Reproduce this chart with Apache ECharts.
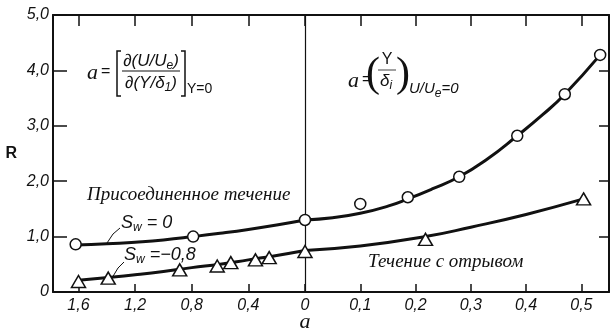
<!DOCTYPE html>
<html><head><meta charset="utf-8">
<script src="https://cdn.jsdelivr.net/npm/echarts@6/dist/echarts.min.js"></script>
<style>html,body{margin:0;padding:0;background:#fff}#c{width:612px;height:330px}</style>
</head><body><div id="c"></div>
<script>
// ---- data ----
// left half: a runs 1.6 -> 0 (Y/δ derivative), right half: a runs 0 -> 0.5
const circLeftA  = [1.62, 0.79, 0.0];
const circLeftR  = [0.86, 1.00, 1.30];
const circRightA = [0.10, 0.186, 0.279, 0.384, 0.47, 0.534];
const circRightR = [1.59, 1.71, 2.08, 2.82, 3.57, 4.28];
const triLeftA   = [1.60, 1.39, 0.885, 0.62, 0.524, 0.35, 0.253, 0.0];
const triLeftR   = [0.19, 0.25, 0.40, 0.47, 0.53, 0.58, 0.62, 0.73];
const triRightA  = [0.218, 0.504];
const triRightR  = [0.95, 1.68];
// faired curves
const curve0LeftA  = [1.62, 1.4, 1.2, 1.0, 0.79, 0.6, 0.4, 0.2, 0.0];
const curve0LeftR  = [0.85, 0.87, 0.90, 0.94, 1.00, 1.06, 1.13, 1.21, 1.30];
const curve0RightA = [0.0, 0.05, 0.1, 0.15, 0.186, 0.23, 0.279, 0.33, 0.384, 0.43, 0.47, 0.534];
const curve0RightR = [1.30, 1.34, 1.42, 1.55, 1.68, 1.86, 2.08, 2.40, 2.82, 3.20, 3.57, 4.28];
const curve1LeftA  = [1.6, 1.39, 1.2, 1.0, 0.8, 0.6, 0.4, 0.2, 0.0];
const curve1LeftR  = [0.21, 0.26, 0.31, 0.37, 0.44, 0.50, 0.58, 0.66, 0.75];
const curve1RightA = [0.0, 0.1, 0.218, 0.3, 0.4, 0.504];
const curve1RightR = [0.75, 0.83, 1.00, 1.17, 1.40, 1.68];
const leftTickStep = 0.4, rightTickStep = 0.1, yTickStep = 1;

const zip = (a, b) => a.map((v, i) => [v, b[i]]);
const fmt = step => v => {
  const k = v / step;
  if (Math.abs(k - Math.round(k)) > 1e-6) return '';
  return v === 0 ? '0' : v.toFixed(1).replace('.', ',');
};
const INK = '#111';
const labelFont = {fontFamily: 'Liberation Sans', fontStyle: 'italic', fontSize: 16, color: INK};

const chart = echarts.init(document.getElementById('c'), null, {renderer: 'canvas'});
const axisLine = {show: true, onZero: false, lineStyle: {color: INK, width: 2}};

function xAx(grid, pos, min, max, step, inverse, showLabel, tickLen, showMin) {
  return {
    type: 'value', gridIndex: grid, position: pos, min: min, max: max, interval: step, inverse: inverse,
    axisLine: axisLine, splitLine: {show: false},
    axisTick: {show: true, inside: true, length: tickLen, lineStyle: {color: INK, width: 1.5}},
    axisLabel: Object.assign({show: showLabel, margin: 6, formatter: fmt(step), showMinLabel: showMin}, labelFont)
  };
}

const option = {
  animation: false,
  backgroundColor: '#fff',
  grid: [
    {left: 53, top: 15, width: 252, bottom: 38},
    {left: 305, top: 15, right: 2, bottom: 38}
  ],
  xAxis: [
    xAx(0, 'bottom', 0, 1.78, leftTickStep, true, true, 8, true),
    xAx(1, 'bottom', 0, 0.55, rightTickStep, false, true, 8, false),
    xAx(0, 'top', 0, 1.78, leftTickStep, true, false, 11, true),
    xAx(1, 'top', 0, 0.55, rightTickStep, false, false, 11, false)
  ],
  yAxis: [
    {type: 'value', gridIndex: 0, position: 'left', min: 0, max: 5, interval: yTickStep,
     axisLine: axisLine, splitLine: {show: false},
     axisTick: {show: true, inside: true, length: 14, lineStyle: {color: INK, width: 1.5}},
     axisLabel: Object.assign({margin: 4, formatter: fmt(yTickStep)}, labelFont),
     name: 'R', nameLocation: 'middle', nameGap: 36, nameRotate: 0,
     nameTextStyle: {fontFamily: 'Liberation Sans', fontWeight: 'bold', fontSize: 16, color: INK}},
    {type: 'value', gridIndex: 0, position: 'right', min: 0, max: 5, interval: yTickStep,
     axisLine: {show: true, onZero: false, lineStyle: {color: INK, width: 1.2}}, splitLine: {show: false},
     axisTick: {show: false}, axisLabel: {show: false}},
    {type: 'value', gridIndex: 1, position: 'right', min: 0, max: 5, interval: yTickStep,
     axisLine: axisLine, splitLine: {show: false},
     axisTick: {show: true, inside: true, length: 10, lineStyle: {color: INK, width: 1.5}},
     axisLabel: {show: false}}
  ],
  series: [
    {type: 'line', xAxisIndex: 0, yAxisIndex: 0, smooth: 0.5, showSymbol: false, z: 2,
     lineStyle: {color: INK, width: 3}, data: zip(curve0LeftA, curve0LeftR)},
    {type: 'line', xAxisIndex: 1, yAxisIndex: 2, smooth: 0.5, showSymbol: false, z: 2,
     lineStyle: {color: INK, width: 3}, data: zip(curve0RightA, curve0RightR)},
    {type: 'line', xAxisIndex: 0, yAxisIndex: 0, smooth: 0.5, showSymbol: false, z: 2,
     lineStyle: {color: INK, width: 3}, data: zip(curve1LeftA, curve1LeftR)},
    {type: 'line', xAxisIndex: 1, yAxisIndex: 2, smooth: 0.5, showSymbol: false, z: 2,
     lineStyle: {color: INK, width: 3}, data: zip(curve1RightA, curve1RightR)},
    {type: 'scatter', xAxisIndex: 0, yAxisIndex: 0, symbol: 'circle', symbolSize: 11, z: 5,
     itemStyle: {color: '#fff', opacity: 1, borderColor: INK, borderWidth: 1.5}, data: zip(circLeftA, circLeftR)},
    {type: 'scatter', xAxisIndex: 1, yAxisIndex: 2, symbol: 'circle', symbolSize: 11, z: 5,
     itemStyle: {color: '#fff', opacity: 1, borderColor: INK, borderWidth: 1.5}, data: zip(circRightA, circRightR)},
    {type: 'scatter', xAxisIndex: 0, yAxisIndex: 0, symbol: 'triangle', symbolSize: [14, 12], z: 5,
     itemStyle: {color: '#fff', opacity: 1, borderColor: INK, borderWidth: 1.5}, data: zip(triLeftA, triLeftR)},
    {type: 'scatter', xAxisIndex: 1, yAxisIndex: 2, symbol: 'triangle', symbolSize: [14, 12], z: 5,
     itemStyle: {color: '#fff', opacity: 1, borderColor: INK, borderWidth: 1.5}, data: zip(triRightA, triRightR)}
  ]
};
chart.setOption(option);

// ---- annotations ----
const sub = {fontSize: 12, fontFamily: 'Liberation Sans', fontStyle: 'italic', padding: [9, 0, 0, 0], fill: INK};
function txt(x, y, text, size, extra) {
  return {type: 'text', x: x, y: y, z: 50, silent: true,
    style: Object.assign({text: text, fontSize: size, fontFamily: 'Liberation Sans', fontStyle: 'italic',
      fill: INK, align: 'left', verticalAlign: 'middle', rich: {s: sub}}, extra || {})};
}
function pl(points, w) {
  return {type: 'polyline', z: 50, silent: true, shape: {points: points},
    style: {stroke: INK, lineWidth: w || 1.5, fill: null}};
}
const ser = {fontFamily: 'Liberation Serif', fontStyle: 'italic'};
chart.setOption({graphic: [
  // left formula
  txt(87, 73, 'a', 22, ser),
  txt(101, 72, '=', 16, {fontStyle: 'normal'}),
  txt(151, 61, '∂(U/U{s|e})', 17, {align: 'center'}),
  pl([[122, 71], [180, 71]], 1.2),
  txt(151, 83, '∂(Y/δ{s|1})', 17, {align: 'center'}),
  pl([[121, 51], [117, 51], [117, 96], [121, 96]], 1.5),
  pl([[181, 51], [185, 51], [185, 96], [181, 96]], 1.5),
  txt(187, 89, 'Y=0', 14, {fontStyle: 'normal'}),
  // right formula
  txt(348, 81, 'a', 22, ser),
  txt(362, 80, '=', 16, {fontStyle: 'normal'}),
  txt(366, 75, '(', 42, {fontStyle: 'normal', fontFamily: 'Liberation Serif'}),
  txt(387, 60, 'Y', 16, {align: 'center', fontStyle: 'normal'}),
  pl([[378, 70], [396, 70]], 0.8),
  txt(386, 81, 'δ{s|i}', 17, {align: 'center'}),
  txt(396, 75, ')', 42, {fontStyle: 'normal', fontFamily: 'Liberation Serif'}),
  txt(409, 89, 'U/U{s|e}=0', 15),
  // curve captions
  txt(87, 195, 'Присоединенное течение', 19, ser),
  txt(368, 262, 'Течение с отрывом', 19, ser),
  txt(121, 223, 'S{s|w} = 0', 18),
  txt(124, 255, 'S{s|w} =−0,8', 18),
  pl([[107, 243], [113, 234], [120, 228]], 1),
  pl([[112, 278], [118, 268], [124, 262]], 1),
  // x-axis name
  txt(305, 322, 'a', 22, Object.assign({align: 'center'}, ser))
]});
</script></body></html>
